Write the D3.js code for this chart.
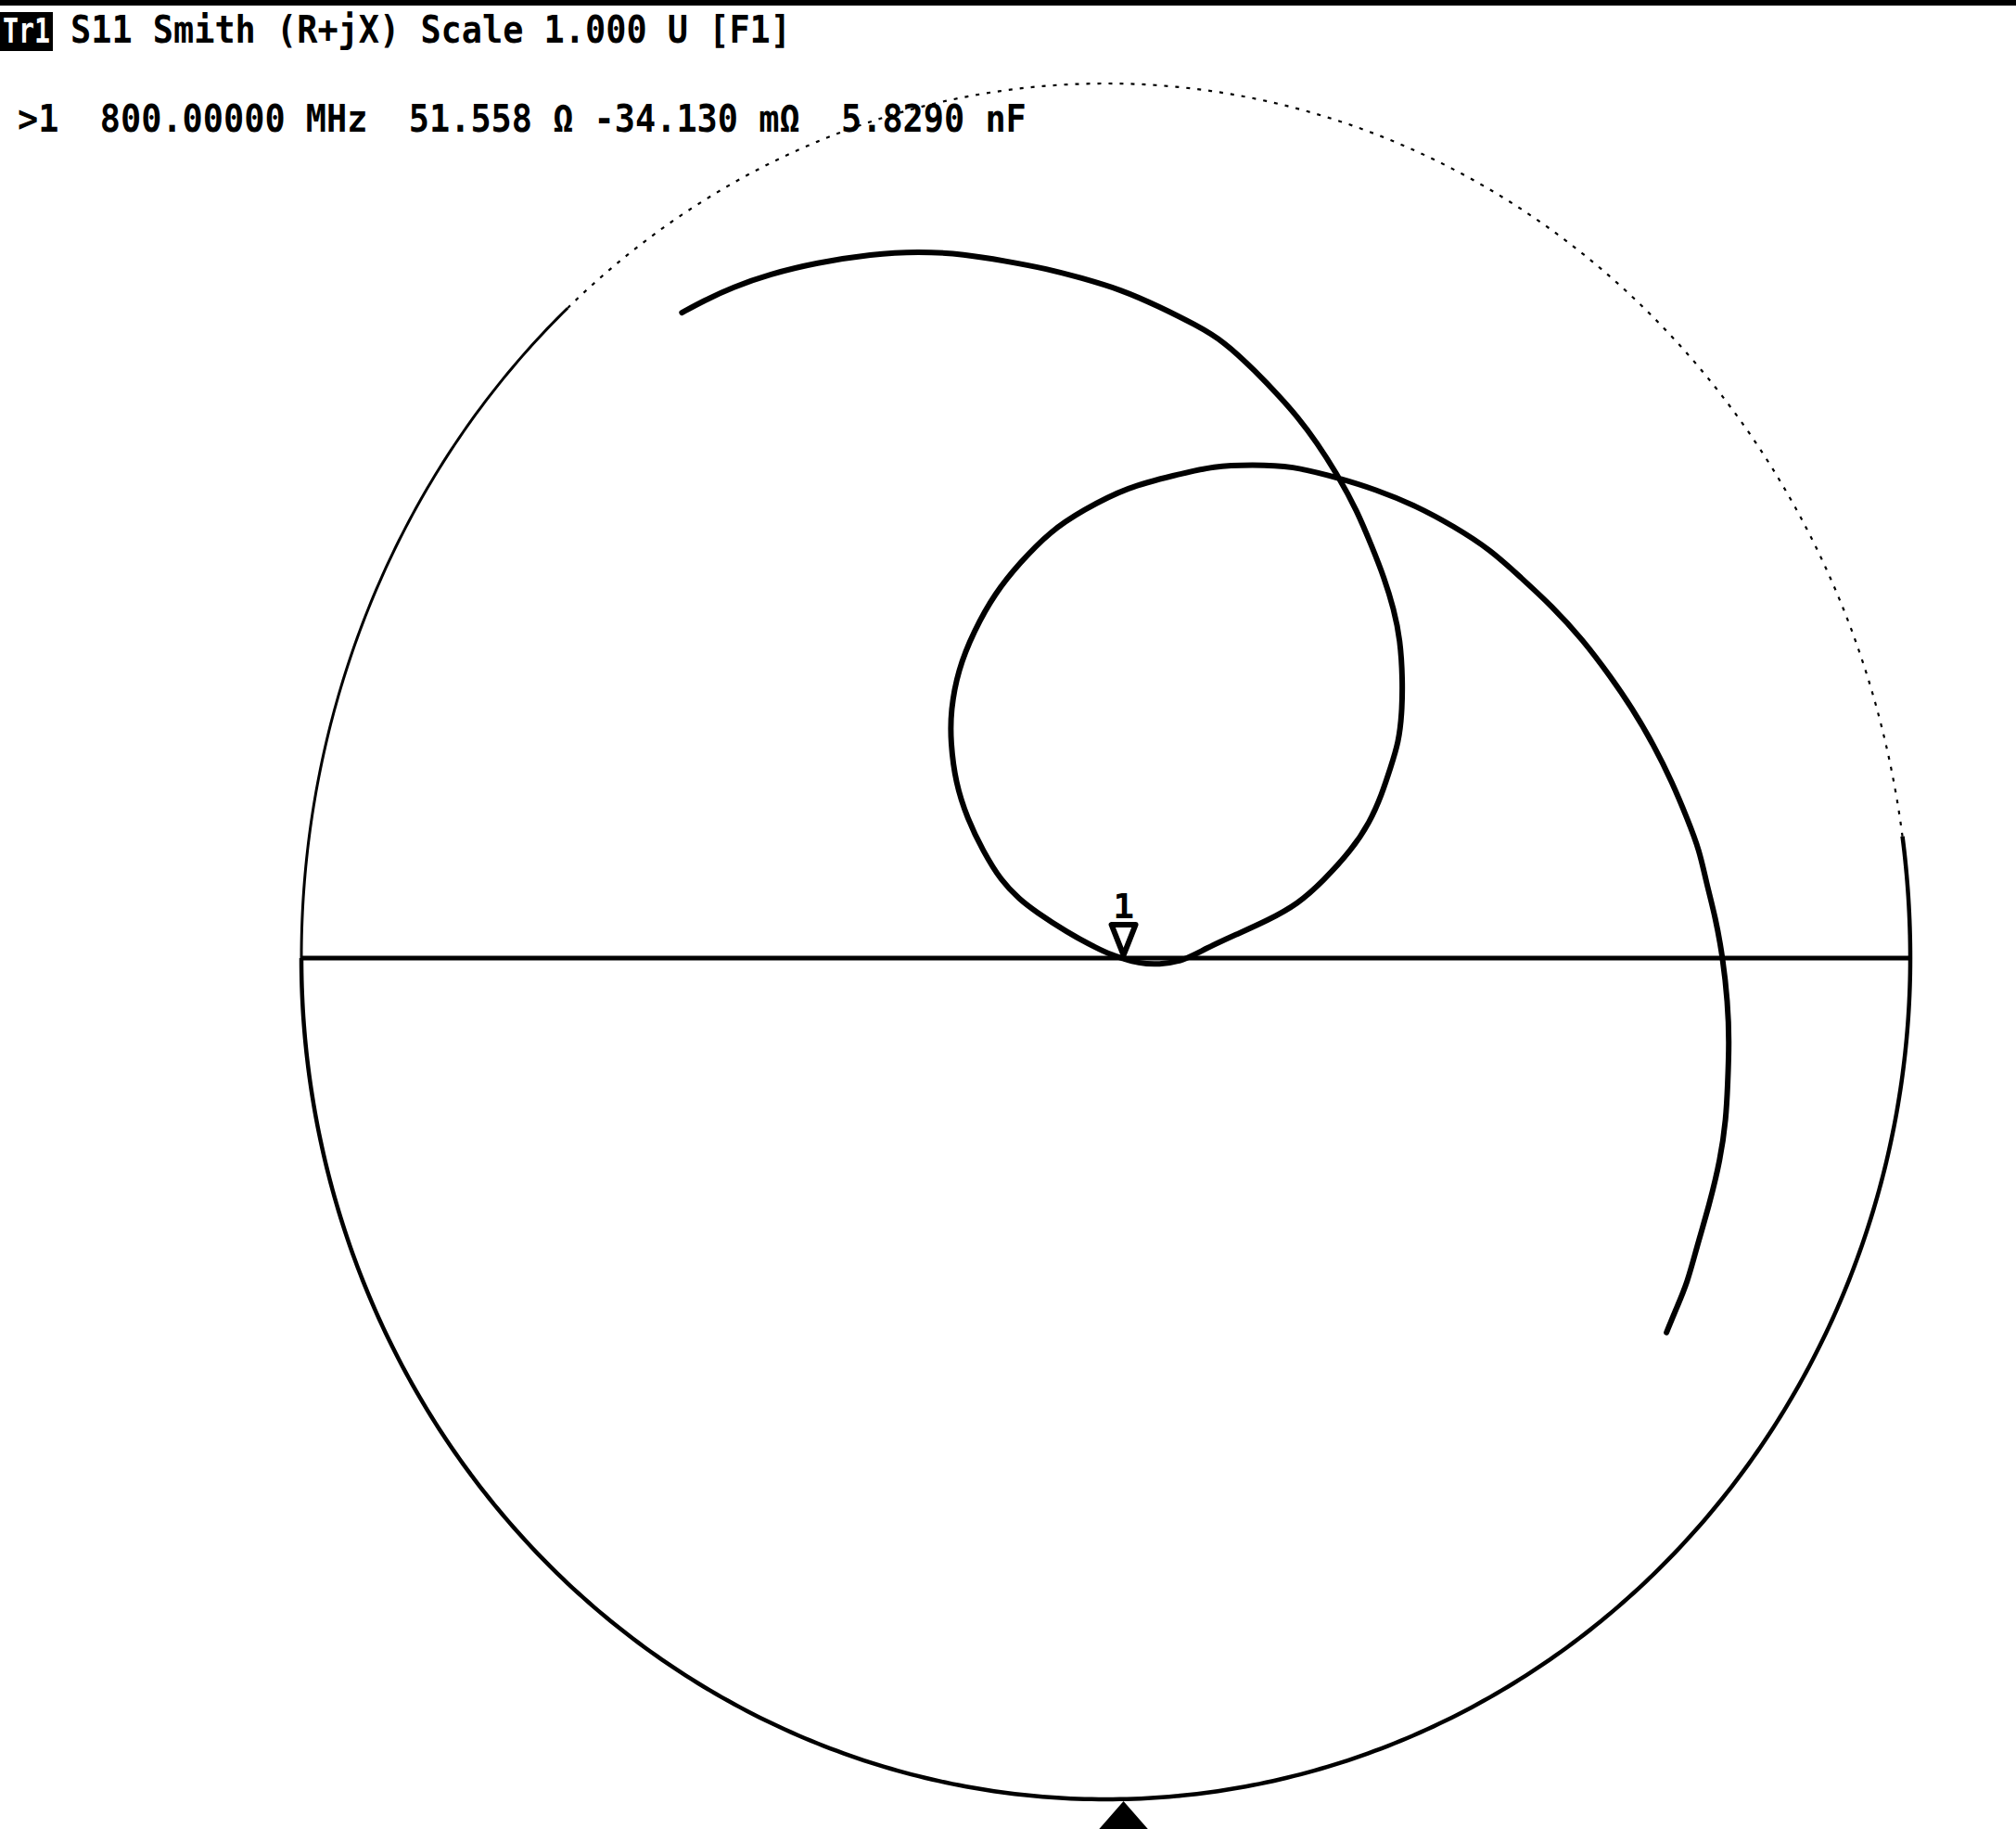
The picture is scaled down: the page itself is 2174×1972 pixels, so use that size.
<!DOCTYPE html>
<html>
<head>
<meta charset="utf-8">
<script src="https://cdn.jsdelivr.net/npm/d3@7"></script>
<style>
  html, body { margin: 0; padding: 0; background: #fff; }
  svg { display: block; }
</style>
</head>
<body>
<script>
// ---- Data (reflection coefficient Γ) ----
const gammaRe = [-0.527,-0.499,-0.464,-0.418,-0.360,-0.291,-0.233,-0.176,-0.125,-0.072,
  -0.032,0.020,0.066,0.112,0.147,0.186,0.216,0.239,0.262,0.289,
  0.312,0.331,0.346,0.358,0.366,0.369,0.368,0.364,0.354,0.343,
  0.328,0.305,0.270,0.239,0.201,0.162,0.124,0.097,0.066,0.040,
  0.020,0.009,-0.011,-0.049,-0.087,-0.107,-0.130,-0.153,-0.172,-0.187,
  -0.193,-0.193,-0.184,-0.164,-0.138,-0.107,-0.069,-0.029,0.028,0.086,
  0.135,0.182,0.231,0.289,0.335,0.386,0.432,0.478,0.516,0.554,
  0.593,0.628,0.654,0.681,0.704,0.723,0.738,0.746,0.758,0.767,
  0.773,0.775,0.773,0.771,0.764,0.750,0.735,0.723,0.708,0.697];
const gammaIm = [0.738,0.752,0.767,0.782,0.795,0.805,0.808,0.805,0.797,0.788,
  0.778,0.764,0.745,0.724,0.705,0.671,0.642,0.618,0.590,0.551,
  0.512,0.470,0.435,0.399,0.364,0.318,0.279,0.247,0.218,0.187,
  0.155,0.123,0.088,0.062,0.043,0.027,0.011,-0.003,-0.008,-0.006,
  0.000,0.003,0.011,0.030,0.053,0.067,0.088,0.123,0.159,0.201,
  0.247,0.282,0.329,0.374,0.417,0.452,0.488,0.512,0.539,0.552,
  0.563,0.564,0.563,0.549,0.536,0.517,0.494,0.467,0.435,0.403,
  0.364,0.321,0.286,0.244,0.201,0.159,0.123,0.088,0.046,0.000,
  -0.052,-0.099,-0.151,-0.191,-0.239,-0.294,-0.342,-0.386,-0.419,-0.445];
const markerGamma = [0.022, 0.0];
const markerLabel = "1";
const titleText = "S11 Smith (R+jX) Scale 1.000 U [F1]";
const traceTag = "Tr1";
const markerReadout = ">1  800.00000 MHz  51.558 \u03A9 -34.130 m\u03A9  5.8290 nF";

// ---- Layout ----
const W = 2174, H = 1972;
const svg = d3.select("body").append("svg").attr("width", W).attr("height", H);
svg.append("rect").attr("width", W).attr("height", H).attr("fill", "#fff");

const x = d3.scaleLinear().domain([-1, 1]).range([325, 2060]);
const y = d3.scaleLinear().domain([-1, 0, 1]).range([1940, 1033, 90]);

// top band
svg.append("rect").attr("x", 0).attr("y", 0).attr("width", W).attr("height", 6).attr("fill", "#000");

// ---- Header texts ----
const charW = 22.2;
const font = "'DejaVu Sans Mono', 'Liberation Mono', monospace";
svg.append("rect").attr("x", 0).attr("y", 13).attr("width", 57).attr("height", 42).attr("fill", "#000");
svg.append("text").attr("x", 3).attr("y", 46)
  .attr("font-family", font).attr("font-weight", "bold").attr("font-size", 38)
  .attr("textLength", 51).attr("lengthAdjust", "spacingAndGlyphs")
  .attr("fill", "#fff").text(traceTag);
svg.append("text").attr("x", 76).attr("y", 46)
  .attr("font-family", font).attr("font-weight", "bold").attr("font-size", 40)
  .attr("textLength", titleText.length * charW).attr("lengthAdjust", "spacingAndGlyphs")
  .attr("fill", "#000").text(titleText);
svg.append("text").attr("x", 19).attr("y", 142).attr("xml:space", "preserve")
  .style("white-space", "pre")
  .attr("font-family", font).attr("font-weight", "bold").attr("font-size", 40)
  .attr("textLength", markerReadout.length * charW).attr("lengthAdjust", "spacingAndGlyphs")
  .attr("fill", "#000").text(markerReadout);

// ---- Outer boundary |Γ| = 1 ----
const arcPts = (a0, a1) => d3.range(a0, a1 + 0.001, 0.5).map(a => {
  const t = a * Math.PI / 180; return [Math.cos(t), Math.sin(t)];
});
const gline = d3.line().x(d => x(d[0])).y(d => y(d[1]));
// lower half + right start (solid)
svg.append("path").attr("d", gline(arcPts(-180, 8))).attr("fill", "none")
  .attr("stroke", "#000").attr("stroke-width", 4.5);
// upper left (solid, thinner)
svg.append("path").attr("d", gline(arcPts(132, 180))).attr("fill", "none")
  .attr("stroke", "#000").attr("stroke-width", 3);
// upper part (dotted)
svg.append("path").attr("d", gline(arcPts(8, 132))).attr("fill", "none")
  .attr("stroke", "#000").attr("stroke-width", 2.2).attr("stroke-dasharray", "4 8");

// real axis
svg.append("line").attr("x1", x(-1)).attr("x2", x(1)).attr("y1", y(0)).attr("y2", y(0))
  .attr("stroke", "#000").attr("stroke-width", 5);

// ---- Trace ----
const traceData = gammaRe.map((r, i) => [r, gammaIm[i]]);
svg.append("path")
  .attr("d", d3.line().x(d => x(d[0])).y(d => y(d[1])).curve(d3.curveBasis)(traceData))
  .attr("fill", "none").attr("stroke", "#000").attr("stroke-width", 6)
  .attr("stroke-linecap", "round").attr("stroke-linejoin", "round");

// ---- Marker ----
const mx = x(markerGamma[0]), my = y(markerGamma[1]);
svg.append("path").attr("d", `M${mx - 13},${my - 36}L${mx + 13},${my - 36}L${mx},${my - 3}Z`)
  .attr("fill", "#fff").attr("stroke", "#000").attr("stroke-width", 6).attr("stroke-linejoin", "round");
svg.append("text").attr("x", mx).attr("y", my - 43).attr("text-anchor", "middle")
  .attr("font-family", font).attr("font-weight", "bold").attr("font-size", 38)
  .attr("fill", "#000").text(markerLabel);

// bottom stimulus pointer
const by = y(-1);
svg.append("path").attr("d", `M${mx},${by + 2}L${mx + 28},${H + 2}L${mx - 28},${H + 2}Z`).attr("fill", "#000");
</script>
</body>
</html>
